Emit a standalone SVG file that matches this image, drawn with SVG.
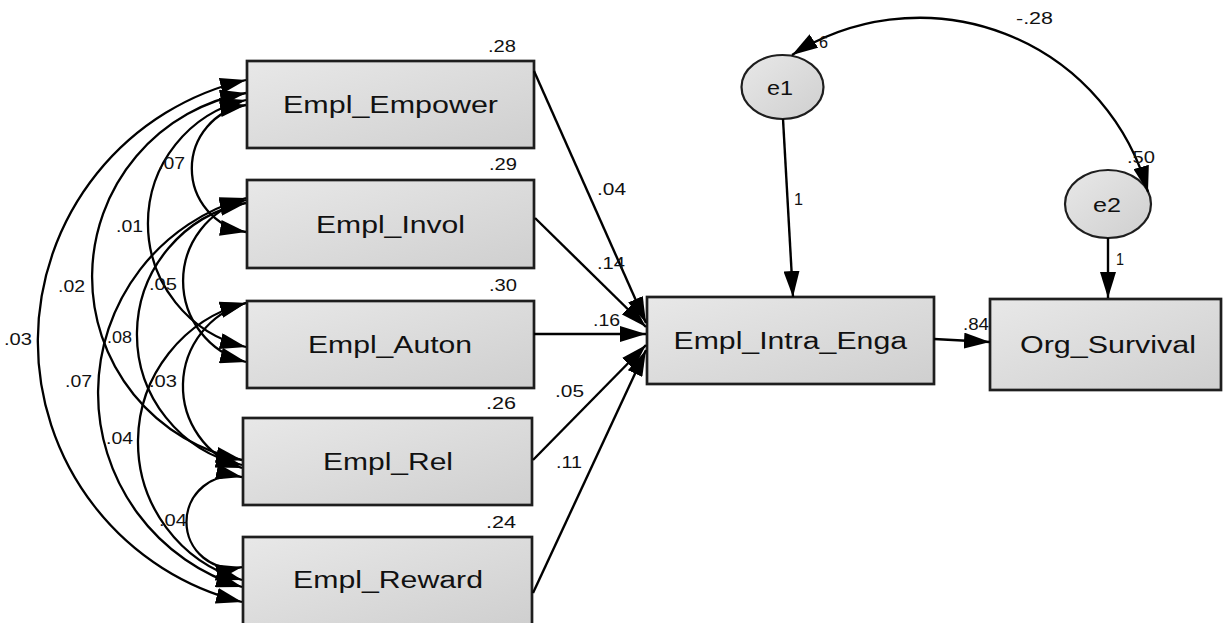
<svg xmlns="http://www.w3.org/2000/svg" width="1223" height="623" viewBox="0 0 1223 623">
<style>
.box{fill:url(#g);stroke:#1e1e1e;stroke-width:2.7}
.ell{fill:url(#g);stroke:#1e1e1e;stroke-width:2.2}
.nt{font-family:"Liberation Sans",Arial,sans-serif;font-size:23.5px;fill:#111}
.et{font-family:"Liberation Sans",Arial,sans-serif;font-size:21px;fill:#111}
.lb{font-family:"Liberation Sans",Arial,sans-serif;font-size:16px;fill:#111}
.c{fill:none;stroke:#000;stroke-width:2.4;marker-end:url(#ah)}
.cv{fill:none;stroke:#000;stroke-width:2.3;marker-start:url(#ah);marker-end:url(#ah)}
</style>
<defs>
<linearGradient id="g" x1="0" y1="0" x2="1" y2="1">
<stop offset="0" stop-color="#e8e8e8"/>
<stop offset="1" stop-color="#cfcfcf"/>
</linearGradient>
<marker id="ah" viewBox="0 0 26 16" refX="26" refY="8" markerWidth="26" markerHeight="16" markerUnits="userSpaceOnUse" orient="auto-start-reverse">
<path d="M0,0 L26,8 L0,16 Z" fill="#000"/>
</marker>
</defs>
<rect width="1223" height="623" fill="#fff"/>

<g id="Empl_Empower">
<rect class="box" x="247" y="61" width="287" height="87"/>
<text class="nt" x="283" y="113" textLength="215" lengthAdjust="spacingAndGlyphs">Empl_Empower</text>
</g>
<g id="Empl_Invol">
<rect class="box" x="247" y="180" width="287" height="88"/>
<text class="nt" x="316" y="232.5" textLength="149" lengthAdjust="spacingAndGlyphs">Empl_Invol</text>
</g>
<g id="Empl_Auton">
<rect class="box" x="247" y="301" width="287" height="87"/>
<text class="nt" x="308" y="353" textLength="164" lengthAdjust="spacingAndGlyphs">Empl_Auton</text>
</g>
<g id="Empl_Rel">
<rect class="box" x="243" y="418" width="289" height="87"/>
<text class="nt" x="323" y="470" textLength="130" lengthAdjust="spacingAndGlyphs">Empl_Rel</text>
</g>
<g id="Empl_Reward">
<rect class="box" x="243" y="537" width="289" height="88"/>
<text class="nt" x="293" y="588" textLength="190" lengthAdjust="spacingAndGlyphs">Empl_Reward</text>
</g>
<g id="Empl_Intra_Enga">
<rect class="box" x="647" y="297" width="287" height="87"/>
<text class="nt" x="673.5" y="348.5" textLength="233.5" lengthAdjust="spacingAndGlyphs">Empl_Intra_Enga</text>
</g>
<g id="Org_Survival">
<rect class="box" x="990" y="299" width="231" height="91"/>
<text class="nt" x="1020" y="353" textLength="176" lengthAdjust="spacingAndGlyphs">Org_Survival</text>
</g>
<g id="e1">
<ellipse class="ell" cx="782.5" cy="87" rx="41" ry="32"/>
<text class="et" x="767" y="95" textLength="26" lengthAdjust="spacingAndGlyphs">e1</text>
</g>
<g id="e2">
<ellipse class="ell" cx="1108" cy="204" rx="43" ry="34"/>
<text class="et" x="1093" y="212" textLength="28" lengthAdjust="spacingAndGlyphs">e2</text>
</g>

<g id="connectors">
<path class="c" d="M534,71 L646,323"/>
<path class="c" d="M535,218 L646,327"/>
<path class="c" d="M534,334 L646,334"/>
<path class="c" d="M533,460 L646,345"/>
<path class="c" d="M533,593 L646,350"/>
<path class="c" d="M783,119 L793,297"/>
<path class="c" d="M1108,238 L1108,298"/>
<path class="c" d="M934,339 L990,342"/>
<path class="cv" d="M1148,192 A237 237 0 0 0 792,55"/>
<path class="cv" d="M246,80 A268.3 268.3 0 0 0 242,602"/>
<path class="cv" d="M246,93 A186.8 186.8 0 0 0 242,460"/>
<path class="cv" d="M246,100 A126.8 126.8 0 0 0 246,347"/>
<path class="cv" d="M246,105 A64.3 64.3 0 0 0 246,232"/>
<path class="cv" d="M246,200 A83.6 83.6 0 0 0 246,362"/>
<path class="cv" d="M246,203 A133.7 133.7 0 0 0 242,465"/>
<path class="cv" d="M246,198 A202.6 202.6 0 0 0 242,587"/>
<path class="cv" d="M246,303 A86.3 86.3 0 0 0 242,468"/>
<path class="cv" d="M246,303 A143.5 143.5 0 0 0 242,580"/>
<path class="cv" d="M242,477 A46 46 0 1 0 242,567"/>
</g>

<g id="edge-labels">
<text class="lb" x="488" y="52" textLength="28" lengthAdjust="spacingAndGlyphs">.28</text>
<text class="lb" x="489" y="170" textLength="28" lengthAdjust="spacingAndGlyphs">.29</text>
<text class="lb" x="489" y="291" textLength="28" lengthAdjust="spacingAndGlyphs">.30</text>
<text class="lb" x="486" y="409" textLength="30" lengthAdjust="spacingAndGlyphs">.26</text>
<text class="lb" x="486" y="528" textLength="30" lengthAdjust="spacingAndGlyphs">.24</text>
<text class="lb" x="597" y="195" textLength="29" lengthAdjust="spacingAndGlyphs">.04</text>
<text class="lb" x="597" y="269" textLength="28" lengthAdjust="spacingAndGlyphs">.14</text>
<text class="lb" x="593" y="326" textLength="27" lengthAdjust="spacingAndGlyphs">.16</text>
<text class="lb" x="555" y="397" textLength="29" lengthAdjust="spacingAndGlyphs">.05</text>
<text class="lb" x="556" y="468" textLength="26" lengthAdjust="spacingAndGlyphs">.11</text>
<text class="lb" x="963" y="330" textLength="26" lengthAdjust="spacingAndGlyphs">.84</text>
<text class="lb" x="1016" y="24" textLength="37" lengthAdjust="spacingAndGlyphs">-.28</text>
<text class="lb" x="819" y="48" textLength="9" lengthAdjust="spacingAndGlyphs">6</text>
<text class="lb" x="1127" y="163" textLength="28" lengthAdjust="spacingAndGlyphs">.50</text>
<text class="lb" x="794" y="205" textLength="9" lengthAdjust="spacingAndGlyphs">1</text>
<text class="lb" x="1116" y="265" textLength="8" lengthAdjust="spacingAndGlyphs">1</text>
<text class="lb" x="158" y="169" textLength="27" lengthAdjust="spacingAndGlyphs">.07</text>
<text class="lb" x="116" y="232" textLength="27" lengthAdjust="spacingAndGlyphs">.01</text>
<text class="lb" x="58" y="292" textLength="27" lengthAdjust="spacingAndGlyphs">.02</text>
<text class="lb" x="149" y="290" textLength="28" lengthAdjust="spacingAndGlyphs">.05</text>
<text class="lb" x="4" y="345" textLength="28" lengthAdjust="spacingAndGlyphs">.03</text>
<text class="lb" x="107" y="343" textLength="25" lengthAdjust="spacingAndGlyphs">.08</text>
<text class="lb" x="65" y="387" textLength="27" lengthAdjust="spacingAndGlyphs">.07</text>
<text class="lb" x="149" y="387" textLength="28" lengthAdjust="spacingAndGlyphs">.03</text>
<text class="lb" x="106" y="444" textLength="27" lengthAdjust="spacingAndGlyphs">.04</text>
<text class="lb" x="159" y="526" textLength="28" lengthAdjust="spacingAndGlyphs">.04</text>
</g>
</svg>
